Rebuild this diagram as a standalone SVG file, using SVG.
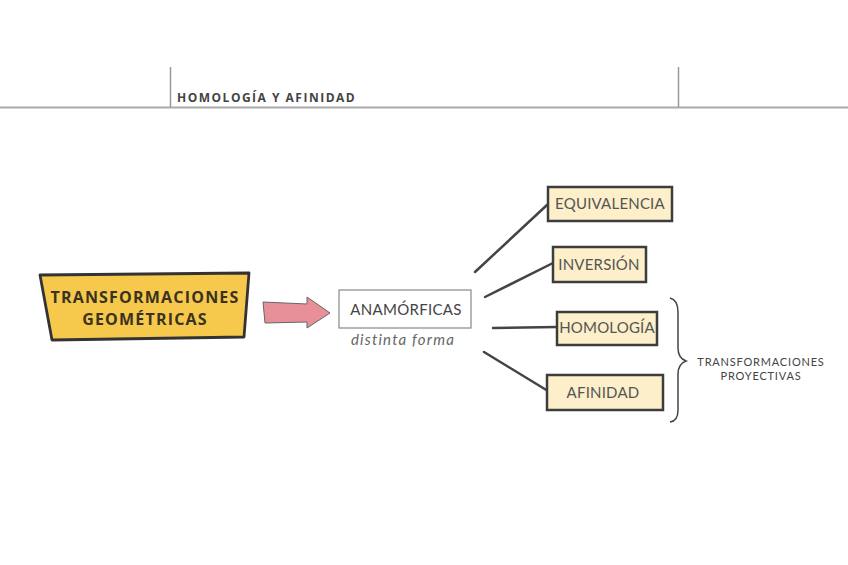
<svg xmlns="http://www.w3.org/2000/svg" width="848" height="565" viewBox="0 0 848 565">
<style>
.hdr{font-family:"Open Sans","Liberation Sans",sans-serif;font-weight:700;font-size:12px;fill:#444;letter-spacing:1.5px}
.main{font-family:"Open Sans","Liberation Sans",sans-serif;font-weight:700;font-size:16px;fill:#3a3220;text-anchor:middle;letter-spacing:1.2px}
.lbl{font-family:Lato,"Liberation Sans",sans-serif;font-size:15px;fill:#444;text-anchor:middle;letter-spacing:0.3px}
.sub{font-family:Lato,"Liberation Sans",sans-serif;font-style:italic;font-size:15px;fill:#666;text-anchor:middle;letter-spacing:1.2px}
.leaf rect{fill:#FCEFC9;stroke:#3d3d3d;stroke-width:2.5}
.leaf text{font-family:Lato,"Liberation Sans",sans-serif;font-size:15px;fill:#555;text-anchor:middle;letter-spacing:0.2px}
.conn{stroke:#444;stroke-width:2.5;fill:none;stroke-linecap:round}
.side{font-family:Lato,"Liberation Sans",sans-serif;font-size:11px;fill:#444;text-anchor:middle;letter-spacing:0.8px}
</style>
<rect width="848" height="565" fill="#fff"/>
<g id="header">
<line x1="0" y1="107.5" x2="848" y2="107.5" stroke="#aaa" stroke-width="2"/>
<line x1="170.5" y1="67" x2="170.5" y2="107" stroke="#999" stroke-width="1.5"/>
<line x1="678.5" y1="67" x2="678.5" y2="107" stroke="#999" stroke-width="1.5"/>
<text class="hdr" x="177" y="102">HOMOLOGÍA Y AFINIDAD</text>
</g>
<g id="transformaciones">
<polygon points="40,275 249,273 244,337 52,340" fill="#F6C84C" stroke="#333" stroke-width="2.8" stroke-linejoin="round"/>
<text class="main" x="145" y="303">TRANSFORMACIONES</text>
<text class="main" x="145" y="325">GEOMÉTRICAS</text>
</g>
<g id="arrow">
<polygon points="263,302 307,304 307,297 330,313 307,328 307,322 265,323" fill="#E8909A" stroke="#666" stroke-width="1" stroke-linejoin="round"/>
</g>
<g id="anamorficas">
<rect x="339" y="290" width="132" height="38" fill="#fff" stroke="#888" stroke-width="1.2"/>
<text class="lbl" x="406" y="315">ANAMÓRFICAS</text>
<text class="sub" x="403" y="345">distinta forma</text>
</g>
<g id="connectors">
<line class="conn" x1="475" y1="272" x2="547" y2="205"/>
<line class="conn" x1="485" y1="297" x2="553" y2="263" stroke-width="3"/>
<line class="conn" x1="493" y1="328" x2="557" y2="327" stroke-width="3"/>
<line class="conn" x1="484" y1="352" x2="548" y2="391"/>
</g>
<g id="equivalencia" class="leaf">
<rect x="548" y="187" width="124" height="34"/>
<text x="610" y="209">EQUIVALENCIA</text>
</g>
<g id="inversion" class="leaf">
<rect x="553" y="247" width="93" height="35"/>
<text x="599" y="270">INVERSIÓN</text>
</g>
<g id="homologia" class="leaf">
<rect x="557" y="312" width="100" height="33"/>
<text x="607" y="333">HOMOLOGÍA</text>
</g>
<g id="afinidad" class="leaf">
<rect x="547" y="375" width="116" height="35"/>
<text x="603" y="398">AFINIDAD</text>
</g>
<g id="brace">
<path d="M670,298 Q678,300 678,312 L678,348 Q678,358 686,361 Q678,364 678,374 L678,410 Q678,421 670,422" fill="none" stroke="#444" stroke-width="1.5"/>
<text class="side" x="761" y="366">TRANSFORMACIONES</text>
<text class="side" x="761" y="380">PROYECTIVAS</text>
</g>
</svg>
